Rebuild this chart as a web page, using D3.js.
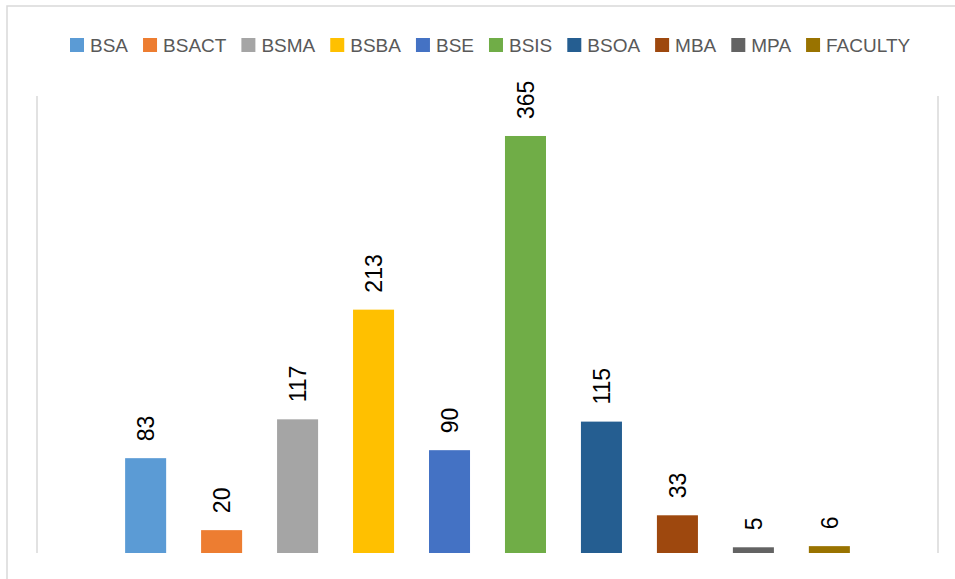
<!DOCTYPE html>
<html>
<head>
<meta charset="utf-8">
<script src="https://cdn.jsdelivr.net/npm/d3@7"></script>
<style>
  body { margin: 0; background: #fff; }
  svg { display: block; }
</style>
</head>
<body>
<svg width="955" height="579"></svg>
<script>
const programs = ["BSA", "BSACT", "BSMA", "BSBA", "BSE", "BSIS", "BSOA", "MBA", "MPA", "FACULTY"]
const counts = [83, 20, 117, 213, 90, 365, 115, 33, 5, 6]
const colors = ["#5B9BD5", "#ED7D31", "#A5A5A5", "#FFC000", "#4472C4", "#70AD47", "#255E91", "#9E480E", "#636363", "#997300"]

const svg = d3.select("svg")
const font = "'Liberation Sans', Arial, sans-serif"

// chart border (only top and left edges are in frame)
svg.append("rect")
    .attr("x", 7).attr("y", 6)
    .attr("width", 1000).attr("height", 1000)
    .attr("fill", "none")
    .attr("stroke", "#d9d9d9")
    .attr("stroke-width", 1.5)

const x = d3.scaleBand()
    .domain(programs)
    .range([37, 938])
    .paddingInner(0.46)
    .paddingOuter(1.16)

const y = d3.scaleLinear()
    .domain([0, 400])
    .range([553, 96])

// side lines of the category group
svg.append("g").selectAll("line")
    .data([37, 938])
    .enter().append("line")
    .attr("x1", d => d).attr("x2", d => d)
    .attr("y1", y(400)).attr("y2", y(0))
    .attr("stroke", "#d9d9d9")
    .attr("stroke-width", 1.5)

const data = programs.map((p, i) => ({ name: p, value: counts[i], color: colors[i] }))

svg.append("g").selectAll("rect")
    .data(data)
    .enter().append("rect")
    .attr("x", d => x(d.name))
    .attr("y", d => y(d.value))
    .attr("width", x.bandwidth())
    .attr("height", d => y(0) - y(d.value))
    .attr("fill", d => d.color)

svg.append("g").selectAll("text")
    .data(data)
    .enter().append("text")
    .attr("transform", d => "translate(" + (x(d.name) + x.bandwidth() / 2) + "," + (y(d.value) - 17) + ") rotate(-90)")
    .attr("dy", "0.36em")
    .attr("font-family", font)
    .attr("font-size", 23)
    .attr("fill", "#000")
    .text(d => d.value)

// legend
const legend = svg.append("g")
let lx = 70
data.forEach(d => {
    legend.append("rect")
        .attr("x", lx).attr("y", 38)
        .attr("width", 14).attr("height", 14)
        .attr("fill", d.color)
    const t = legend.append("text")
        .attr("x", lx + 20).attr("y", 51.5)
        .attr("font-family", font)
        .attr("font-size", 19)
        .attr("fill", "#595959")
        .text(d.name)
    lx += 20 + t.node().getComputedTextLength() + 15
})
</script>
</body>
</html>
